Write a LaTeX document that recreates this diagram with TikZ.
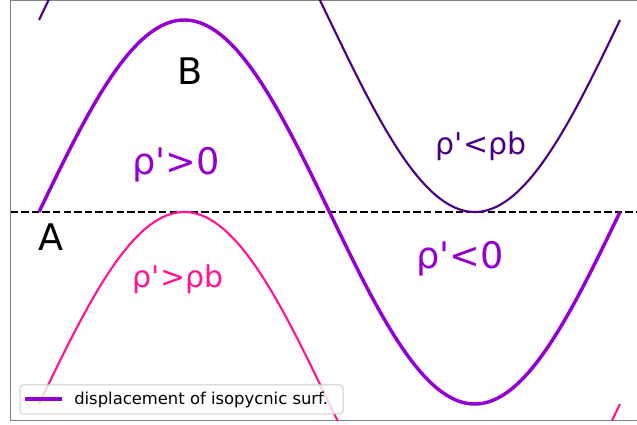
\documentclass[tikz,border=0pt]{standalone}
\usepackage{fontspec}
\setmainfont{DejaVu Sans}
\usetikzlibrary{positioning}
\definecolor{wave}{HTML}{9400D3}
\definecolor{upper}{HTML}{4B0082}
\definecolor{lower}{HTML}{FF1493}
\definecolor{spine}{HTML}{808080}
\definecolor{legrule}{HTML}{CCCCCC}

\begin{document}
\begin{tikzpicture}[x=0.75pt,y=0.75pt,
  big/.style={anchor=base,font=\fontsize{27.5}{32}\selectfont},
  small/.style={anchor=base,font=\fontsize{22.5}{26}\selectfont}]
\useasboundingbox (0,0) rectangle (637,425);
\def\isoMid{plot[domain=0:360,samples=181] ({39+1.61389*\x},{213+192*sin(\x)})}
\def\isoUp{plot[domain=0:360,samples=181] ({39+1.61389*\x},{405+192*sin(\x)})}
\def\isoDown{plot[domain=0:360,samples=181] ({39+1.61389*\x},{21+192*sin(\x)})}
% axes frame
\draw[spine,line width=.75pt] (10.5,4) -- (10.5,424) -- (637,424);
\draw[spine,line width=.75pt] (10.5,4) -- (637,4);
% rest level
\draw[black,line width=1.6pt,dash pattern=on 5.55pt off 2.4pt] (10.5,213) -- (637,213);
% isopycnic surfaces
\begin{scope}
\clip (10.5,4) rectangle (637,424);
\draw[upper,line width=1.6pt] \isoUp;
\draw[lower,line width=1.6pt] \isoDown;
\draw[wave,line width=2.6pt] \isoMid;
\end{scope}
% labels
\node[big] (labB) at (190,340) {B};
\node[big] (labA) at (51,174) {A};
\node[big,wave] (posrho) at (176,250) {ρ\textquotesingle>0};
\node[big,wave] (negrho) at (460,156) {ρ\textquotesingle<0};
\node[small,upper] (ltb) at (481,270) {ρ\textquotesingle<ρb};
\node[small,lower] (gtb) at (178,137) {ρ\textquotesingle>ρb};
% legend
\draw[legrule,fill=white,fill opacity=.8,line width=.75pt,rounded corners=2.5pt] (20,11) rectangle (343,40);
\draw[wave,line width=2.6pt] (25,26) -- (62,26);
\node[anchor=base west,inner sep=0pt,font=\fontsize{12.3}{15}\selectfont] (legtext) at (74,20) {displacement of isopycnic surf.};
\end{tikzpicture}
\end{document}
